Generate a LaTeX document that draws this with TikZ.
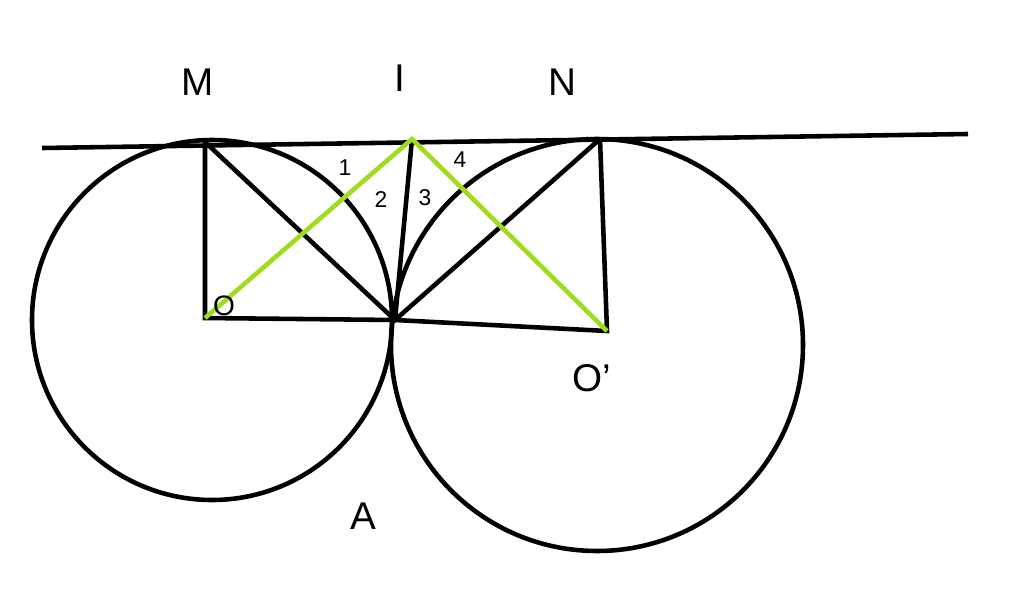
\documentclass[tikz,border=0pt]{standalone}
\usepackage{fontspec}
\setsansfont{Liberation Sans}
\definecolor{lime}{RGB}{160,220,30}
\begin{document}
\begin{tikzpicture}[x=0.02cm,y=-0.02cm,line width=2.6pt,
  lbl/.style={font=\fontsize{22}{26}\selectfont\sffamily},
  num/.style={font=\fontsize{13}{15}\selectfont\sffamily}]
\useasboundingbox (0,0) rectangle (1024,608);

\coordinate (L) at (42,148);
\coordinate (R) at (968,134);
\coordinate (M) at (205,142);
\coordinate (I) at (412,139);
\coordinate (N) at (600,139);
\coordinate (O) at (205,318);
\coordinate (O2) at (607,331);
\coordinate (T) at (395,320);

\draw (212,320) circle (180);
\draw (597,345) circle (206);
\draw (L) -- (R);

\draw (M) -- (O) -- (T) -- (O2) -- (N);
\draw (M) -- (T) -- (N);
\draw (I) -- (T);
\draw [lime] (O) -- (I) -- (O2);

\node [lbl] (lM) at (198,82) {M};
\node [lbl] (lI) at (400,78) {I};
\node [lbl] (lN) at (562,82) {N};
\node [lbl] (lO2) at (592,378) {O'};
\node [lbl] (lA) at (363,516) {A};
\node [lbl,font=\fontsize{16}{18}\selectfont\sffamily] (lO) at (224,306) {O};
\node [num] (a1) at (345,168) {1};
\node [num] (a2) at (381,200) {2};
\node [num] (a3) at (425,198) {3};
\node [num] (a4) at (460,160) {4};
\end{tikzpicture}
\end{document}
